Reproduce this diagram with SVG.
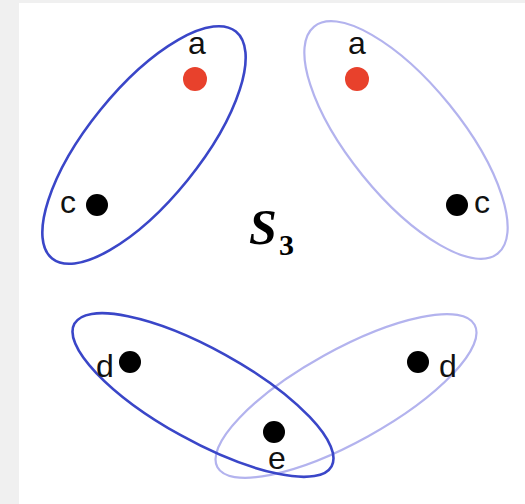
<svg xmlns="http://www.w3.org/2000/svg" width="525" height="504" viewBox="0 0 525 504">
<style>
.set-dark{fill:none;stroke:#3a46c8;stroke-width:2.6}
.set-light{fill:none;stroke:#b3b3ee;stroke-width:2.2}
.pt{fill:#000}
.pt-red{fill:#e8412c}
.lbl{font-family:"Liberation Sans",Arial,sans-serif;font-size:32px;fill:#111;text-anchor:middle}
.math{font-family:"Liberation Serif","DejaVu Serif",serif;font-weight:bold;fill:#000}
</style>
<rect x="0" y="0" width="525" height="504" fill="#ffffff"/>
<rect x="0" y="0" width="19" height="504" fill="#f0f0f0"/>
<rect x="0" y="0" width="525" height="3" fill="#f0f0f0"/>
<g id="connectors"></g>
<g id="set-top-left">
<ellipse class="set-dark" cx="144" cy="145" rx="146" ry="56" transform="rotate(-51 144 145)"/>
</g>
<g id="set-top-right">
<ellipse class="set-light" cx="406" cy="140" rx="146" ry="56" transform="rotate(51 406 140)"/>
</g>
<g id="set-bottom-right">
<ellipse class="set-light" cx="346" cy="396" rx="147" ry="46" transform="rotate(-29 346 396)"/>
</g>
<g id="set-bottom-left">
<ellipse class="set-dark" cx="203" cy="395" rx="147" ry="46" transform="rotate(29 203 395)"/>
</g>
<g id="node-a-left"><circle class="pt-red" cx="195" cy="79" r="12"/><text class="lbl" x="197" y="54">a</text></g>
<g id="node-c-left"><circle class="pt" cx="97" cy="205" r="11"/><text class="lbl" x="68" y="213">c</text></g>
<g id="node-a-right"><circle class="pt-red" cx="357" cy="79" r="12"/><text class="lbl" x="357" y="54">a</text></g>
<g id="node-c-right"><circle class="pt" cx="457" cy="205" r="11"/><text class="lbl" x="482" y="213">c</text></g>
<g id="node-d-left"><circle class="pt" cx="130" cy="362" r="11"/><text class="lbl" x="105" y="377">d</text></g>
<g id="node-e"><circle class="pt" cx="274" cy="432" r="11"/><text class="lbl" x="277" y="469">e</text></g>
<g id="node-d-right"><circle class="pt" cx="418" cy="362" r="11"/><text class="lbl" x="448" y="377">d</text></g>
<g id="title"><text class="math" x="249" y="244" font-size="50" font-style="italic">S</text><text class="math" x="279" y="255" font-size="30">3</text></g>
</svg>
